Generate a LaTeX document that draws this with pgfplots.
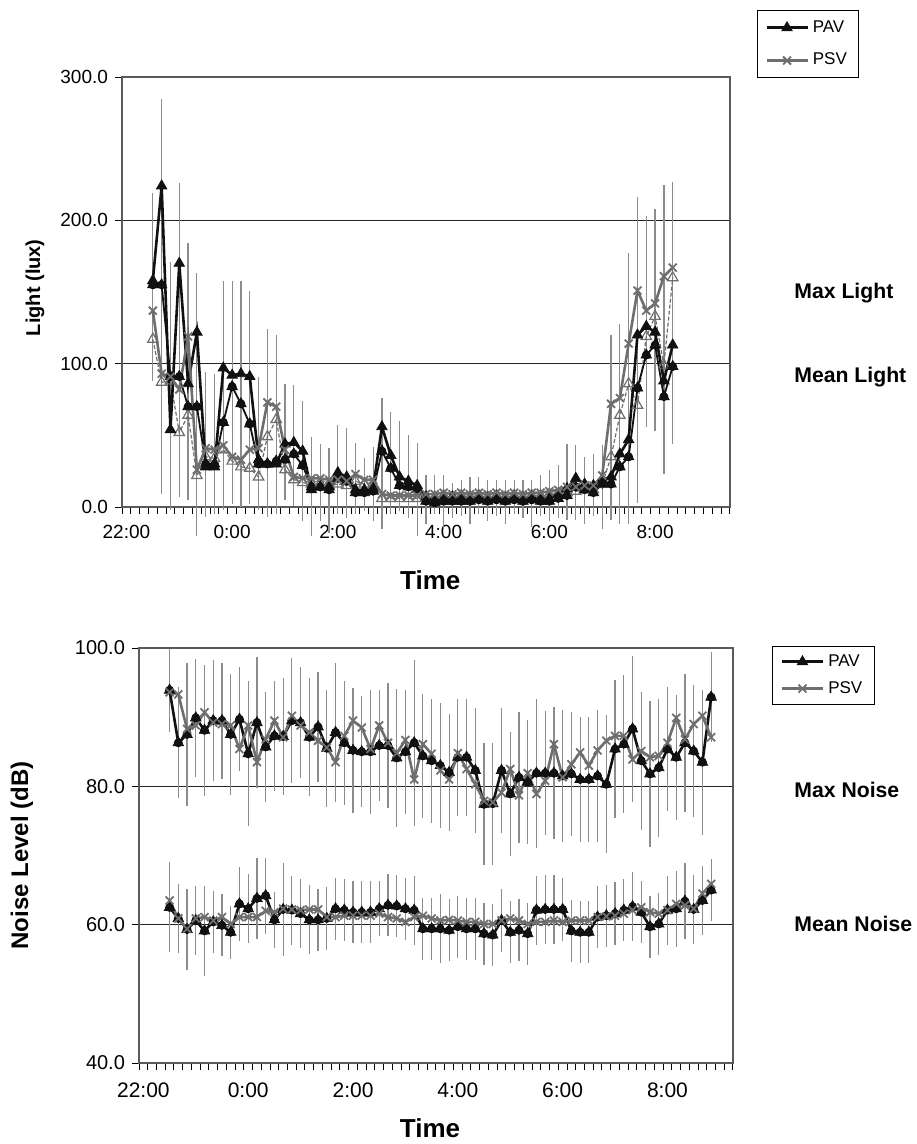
\documentclass[border=0pt]{standalone}
\usepackage{fontspec}
\setmainfont{Liberation Sans}
\usepackage{pgfplots}
\usepackage{pgfplotstable}
\pgfplotsset{compat=1.18}

\definecolor{pav}{HTML}{111111}
\definecolor{psv}{HTML}{6E6E6E}
\definecolor{ebar}{HTML}{8C8C8C}
\definecolor{frame}{HTML}{5A5A5A}

% light: k = 10-min step after 22:00; lo/hi = ends of the error lines
\pgfplotstableread{
k pavmax pavmean psvmax psvmean lo hi
3 158 155 137 117 88 219
4 224 155 93 87 9 285
5 54 91 91 88 -2 171
6 170 91 82 52 7 226
7 86 70 119 64 5 184
8 122 70 26 22 -20 163
9 28 30 41 35 -7 94
10 28 30 40 34 -5 93
11 97 59 43 40 -2 158
12 92 84 35 32 2 158
13 93 72 33 28 0 158
14 91 58 40 27 2 151
15 33 30 41 21 -2 91
16 30 30 73 49 -7 124
17 30 32 70 61 -5 120
18 44 33 40 26 5 86
19 45 37 21 19 1 85
20 39 29 20 17 -10 74
21 12 14 20 16 -20 49
22 14 14 20 16 -10 44
23 14 12 19 15 -18 41
24 24 20 19 16 -5 57
25 21 18 18 15 -8 55
26 12 10 23 18 -5 45
27 12 10 19 16 -3 34
28 13 11 19 15 -10 42
29 56 39 9 6 -15 76
30 36 27 8 6 -5 66
31 21 15 8 6 -3 60
32 18 14 8 6 -8 50
33 15 12 8 6 -20 45
34 7 4 9 7 -12 22
35 5 3 9 7 -5 22
36 6 4 10 8 -15 22
37 7 4 9 7 -8 17
38 6 4 10 8 -6 19
39 6 4 9 7 -12 21
40 7 5 10 8 -5 21
41 6 4 9 7 -10 19
42 7 5 10 8 -6 19
43 6 4 9 7 -12 19
44 7 5 10 8 -5 19
45 6 4 9 7 -8 19
46 7 5 10 8 -14 19
47 6 4 10 8 -6 22
48 6 4 11 9 -10 26
49 9 6 12 9 -8 29
50 13 8 14 10 -9 44
51 20 14 14 11 -9 43
52 16 12 15 12 -12 35
53 15 10 15 12 -6 37
54 19 16 22 16 -15 43
55 21 16 72 35 -9 120
56 37 28 76 64 -12 128
57 47 35 114 86 -12 177
58 120 83 151 71 3 216
59 126 106 137 119 56 203
60 122 113 142 133 53 208
61 88 77 161 99 23 225
62 113 98 167 160 44 227
}\lightdata

% noise: sd = error line half length
\pgfplotstableread{
k pavmax psvmax pavmean psvmean sdmax sdmean
3 93.9 93.6 62.5 63.5 6 6.5
4 86.3 93.3 60.9 60.9 8 5
5 87.5 88.3 59.3 59.4 10.4 5.8
6 89.9 88.8 60.6 60.9 8.5 5
7 88.1 90.7 59.1 61.1 9.5 6.5
8 89.5 89.2 60.4 60.6 8.7 4.5
9 89.5 89.0 59.9 61.1 8.4 4.5
10 87.5 88.8 58.9 60.1 8.8 3.8
11 89.7 85.4 63.0 61.1 7.5 5.4
12 84.7 88.8 62.3 61.1 10.5 5
13 89.2 83.5 63.8 61.1 9.5 5.8
14 85.7 86.8 64.2 62.0 8 5.5
15 87.3 89.5 60.7 61.8 8 4
16 87.2 87.1 62.2 62.3 8.5 6.7
17 89.5 90.2 62.1 62.2 9 5
18 89.2 88.8 61.6 62.1 8 5
19 87.1 87.8 60.7 62.2 8.5 5
20 88.6 86.6 60.7 62.2 8 4.5
21 85.5 85.6 60.9 61.1 8.5 4.5
22 87.8 83.5 62.3 61.1 10 4.5
23 86.3 87.3 62.1 61.3 9 4.5
24 85.2 89.5 61.8 61.3 9 4.5
25 85.0 88.5 61.8 61.3 8 4.5
26 85.0 85.4 61.8 61.3 9 4.5
27 85.9 88.8 62.3 61.6 8 4
28 85.9 86.3 62.8 61.1 9 4.5
29 84.1 84.8 62.7 60.9 10 4.5
30 85.0 86.7 62.3 60.4 9 4.5
31 86.3 81.0 62.1 61.1 12 5
32 84.4 86.1 59.4 61.3 9 4.5
33 83.7 84.7 59.4 60.9 9 4.5
34 83.0 82.3 59.4 60.6 9 5
35 82.0 81.0 59.2 60.7 8.5 4.5
36 84.2 84.8 59.7 60.6 8.5 4.5
37 84.2 82.5 59.4 60.4 8.5 4.5
38 82.3 80.3 59.4 60.4 9 4.5
39 77.4 77.9 58.7 60.1 8.8 4.5
40 77.5 77.7 58.5 60.1 8.8 4.5
41 82.3 79.1 60.6 60.6 9 4.5
42 78.9 82.5 58.9 60.9 9 4.5
43 81.3 78.7 59.2 60.6 9.5 4.5
44 80.6 81.9 58.7 60.1 9 4.5
45 81.9 78.9 62.1 60.4 10.8 5
46 81.9 80.8 62.2 60.4 9 5
47 81.9 86.1 62.2 60.6 9.5 5
48 81.5 81.3 62.2 60.4 9.6 4.5
49 81.8 83.2 59.1 60.6 9 4.5
50 81.0 84.9 58.9 60.6 9 4.5
51 81.0 83.0 58.9 60.6 9 4.5
52 81.5 85.2 61.1 61.1 9.6 4.5
53 80.3 86.6 61.3 61.2 10 4.5
54 85.4 87.3 61.6 61.3 10 4.5
55 86.1 87.3 62.1 61.6 10 4.5
56 88.3 83.9 62.6 62.1 10.5 5
57 83.7 85.1 61.8 62.5 10 4.5
58 81.8 84.2 59.7 61.8 10.5 4.5
59 82.7 84.4 60.1 61.6 10 4.5
60 85.4 86.3 62.1 62.1 9 5
61 84.2 89.9 62.3 63.0 9 5.5
62 86.3 86.8 63.4 62.8 10 5.5
63 85.1 89.0 62.2 62.3 9.5 5
64 83.5 90.2 63.5 64.5 10.5 5
65 92.9 87.1 65.0 65.9 6.5 4.5
}\noisedata

\pgfplotsset{
  chart/.style={
    scale only axis, clip=false,
    axis line style={frame, line width=0.6pt},
    tick align=outside, tick pos=left,
    major tick length=3.5pt, minor tick length=3.5pt,
    tick style={black, line width=0.5pt},
    major x tick style={draw=none},
    ymajorgrids, grid style={black!85, line width=0.5pt},
    xtick={0,12,24,36,48,60},
    xticklabels={22:00,0:00,2:00,4:00,6:00,8:00},
    scaled y ticks=false,
    /pgf/number format/fixed,
    /pgf/number format/fixed zerofill,
    /pgf/number format/precision=1,
    /pgf/number format/assume math mode=true,
    legend cell align=left,
    legend image code/.code={\draw[mark repeat=2,mark phase=2] plot coordinates {(0cm,0cm) (0.36cm,0cm) (0.72cm,0cm)};},
  },
  pavline/.style={pav, line width=1.3pt, mark=triangle*, mark size=3pt, mark options={solid, line width=0.4pt, fill=pav}},
  psvline/.style={psv, line width=1.3pt, mark=x, mark size=2.8pt, mark options={solid, line width=0.9pt}},
  ebars/.style={only marks, mark=none, forget plot,
    error bars/.cd, y dir=both, y explicit, error mark=none,
    error bar style={ebar, line width=0.6pt}},
}

\begin{document}
\begin{tikzpicture}
\useasboundingbox (0,0) rectangle (458pt,-572pt);

\begin{axis}[chart,
  at={(61pt,-253.5pt)}, anchor=south west, width=304pt, height=215pt,
  xmin=-0.5, xmax=68.5, ymin=0, ymax=300, ytick={0,100,200,300},
  minor xtick={-0.5,0.5,...,68.5},
  xticklabel style={font=\fontsize{9.5}{10}\selectfont, yshift=-2pt},
  yticklabel style={font=\fontsize{9.5}{10}\selectfont},
  xlabel={Time}, ylabel={Light (lux)},
  every axis x label/.style={at={(axis description cs:0.507,0)}, yshift=-36.5pt, anchor=center, font=\bfseries\fontsize{13}{15}\selectfont},
  every axis y label/.style={at={(axis description cs:0,0.51)}, xshift=-43.5pt, rotate=90, anchor=center, font=\bfseries\fontsize{10}{12}\selectfont},
  legend style={at={(axis description cs:1.044,1.156)}, anchor=north west,
    draw=black, line width=0.5pt, font=\fontsize{8.5}{9}\selectfont,
    inner xsep=4pt, inner ysep=3pt, row sep=5pt},
]
\addplot[ebars] table[x=k, y=pavmean,
  y error plus expr=\thisrow{hi}-\thisrow{pavmean},
  y error minus expr=\thisrow{pavmean}-\thisrow{lo}] {\lightdata};
\addplot[psv, line width=0.6pt, dash pattern=on 2pt off 1pt, mark=triangle, mark size=3pt,
  mark options={solid, fill=white, line width=0.6pt}, forget plot] table[x=k, y=psvmean] {\lightdata};
\addplot[pavline, line width=0.9pt, forget plot] table[x=k, y=pavmean] {\lightdata};
\addplot[pavline] table[x=k, y=pavmax] {\lightdata};
\addlegendentry{PAV}
\addplot[psvline] table[x=k, y=psvmax] {\lightdata};
\addlegendentry{PSV}
\end{axis}

\begin{axis}[chart,
  at={(69.5pt,-531.5pt)}, anchor=south west, width=297pt, height=207.5pt,
  xmin=-0.5, xmax=67.5, ymin=40, ymax=100, ytick={40,60,80,100},
  minor xtick={-0.5,0.5,...,67.5},
  xticklabel style={font=\fontsize{10.5}{11}\selectfont, yshift=-3pt},
  yticklabel style={font=\fontsize{10}{11}\selectfont},
  xlabel={Time}, ylabel={Noise Level (dB)},
  every axis x label/.style={at={(axis description cs:0.49,0)}, yshift=-32.5pt, anchor=center, font=\bfseries\fontsize{13}{15}\selectfont},
  every axis y label/.style={at={(axis description cs:0,0.5)}, xshift=-58.5pt, rotate=90, anchor=center, font=\bfseries\fontsize{12}{14}\selectfont},
  legend style={at={(axis description cs:1.066,1.005)}, anchor=north west,
    draw=black, line width=0.5pt, font=\fontsize{8.5}{9}\selectfont,
    inner xsep=4pt, inner ysep=2pt, row sep=2pt},
]
\addplot[ebars] table[x=k, y=pavmax, y error=sdmax] {\noisedata};
\addplot[ebars] table[x=k, y=pavmean, y error=sdmean] {\noisedata};
\addplot[pavline] table[x=k, y=pavmax] {\noisedata};
\addlegendentry{PAV}
\addplot[psvline] table[x=k, y=psvmax] {\noisedata};
\addlegendentry{PSV}
\addplot[pavline, forget plot] table[x=k, y=pavmean] {\noisedata};
\addplot[psvline, forget plot] table[x=k, y=psvmean] {\noisedata};
\end{axis}

\begin{scope}[every node/.style={anchor=west, font=\bfseries\fontsize{10.6}{13}\selectfont, inner sep=0pt}]
\node at (397pt,-146.5pt) {Max Light};
\node at (397pt,-188.5pt) {Mean Light};
\node at (397pt,-395pt) {Max Noise};
\node at (397pt,-462pt) {Mean Noise};
\end{scope}
\end{tikzpicture}
\end{document}
